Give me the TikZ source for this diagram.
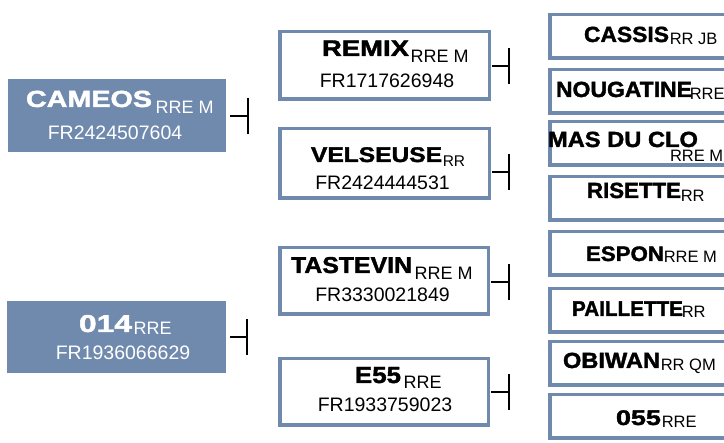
\documentclass[tikz,border=0pt]{standalone}
\usepackage{graphicx}
\usepackage{fontspec}
\setmainfont{Liberation Sans}
\newfontfamily\cownamefont[FakeBold=1.6]{Liberation Sans Bold}
\definecolor{boxblue}{RGB}{112,138,174}
% name: width, height, text
\newcommand\cowname[3]{\resizebox{#1pt}{#2pt}{\cownamefont\fontsize{20}{20}\selectfont #3}}
\newcommand\cowsuf[1]{{\fontsize{18}{18}\selectfont #1}}
\newcommand\rcowsuf[1]{{\fontsize{16.5}{16.5}\selectfont #1}}
\newcommand\frnum[1]{{\fontsize{19.5}{19.5}\selectfont #1}}
\tikzset{
  leftbox/.style={fill=boxblue, draw=none, inner sep=0pt, outer sep=0pt},
  midbox/.style={draw=boxblue, line width=3.5pt, fill=white, minimum width=209.5pt, inner sep=0pt},
  rbox/.style={draw=boxblue, line width=3.5pt, fill=white, minimum width=200pt, minimum height=43.5pt, inner sep=0pt},
  txt/.style={inner sep=0pt, outer sep=0pt, anchor=base},
  ltxt/.style={inner sep=0pt, outer sep=0pt, anchor=base west},
  conn/.style={line width=1.5pt, draw=black},
}
\begin{document}
\begin{tikzpicture}[x=1pt,y=-1pt]
\useasboundingbox (0,0) rectangle (724,443);
\clip (0,0) rectangle (724,443);

% left boxes
\node[leftbox, minimum width=218pt, minimum height=73pt] (cameos) at (117,115.5) {};
\node[leftbox, minimum width=219pt, minimum height=72pt] (o14) at (116.5,337) {};
\node[ltxt, white] (cameosname) at (26,107) {\cowname{126}{16.3}{CAMEOS}};
\node[ltxt, white] (cameossuf) at (155.7,114) {\cowsuf{RRE M}};
\node[txt, white] (cameosfr) at (115,140) {\frnum{FR2424507604}};
\node[ltxt, white] (o14name) at (79,332) {\cowname{53}{17}{014}};
\node[ltxt, white] (o14suf) at (133.7,335) {\cowsuf{RRE}};
\node[txt, white] (o14fr) at (123,360) {\frnum{FR1936066629}};

% middle boxes
\node[midbox, minimum height=67.5pt] (remix) at (384.5,65.5) {};
\node[midbox, minimum height=69.5pt] (velseuse) at (384.5,163.5) {};
\node[midbox, minimum height=66.5pt, minimum width=208.5pt] (tastevin) at (384,281) {};
\node[midbox, minimum height=66.5pt, minimum width=208.5pt] (e55) at (384,392) {};
\node[ltxt] (remixname) at (322,56) {\cowname{87}{15.5}{REMIX}};
\node[ltxt] (remixsuf) at (410.7,63) {\cowsuf{RRE M}};
\node[txt] (remixfr) at (387,88) {\frnum{FR1717626948}};
\node[ltxt] (velseusename) at (311,162) {\cowname{131}{14.8}{VELSEUSE}};
\node[ltxt] (velseusesuf) at (442.8,167) {\fontsize{15.5}{15.5}\selectfont RR};
\node[txt] (velseusefr) at (382.5,190) {\frnum{FR2424444531}};
\node[ltxt] (tastevinname) at (291,273) {\cowname{121}{16}{TASTEVIN}};
\node[ltxt] (tastevinsuf) at (414.7,280) {\cowsuf{RRE M}};
\node[txt] (tastevinfr) at (382.5,302) {\frnum{FR3330021849}};
\node[ltxt] (e55name) at (355,383) {\cowname{46}{16}{E55}};
\node[ltxt] (e55suf) at (403.7,389) {\cowsuf{RRE}};
\node[txt] (e55fr) at (385,412) {\frnum{FR1933759023}};

% right boxes
\node[rbox] (cassis) at (649.75,36.5) {};
\node[rbox] (nougatine) at (649.75,91.5) {};
\node[rbox] (masduclo) at (649.75,143.5) {};
\node[rbox] (risette) at (649.75,198.5) {};
\node[rbox] (espon) at (649.75,253.5) {};
\node[rbox] (paillette) at (649.75,310.5) {};
\node[rbox] (obiwan) at (649.75,363.5) {};
\node[rbox] (o55) at (649.75,416.5) {};
\node[ltxt] (cassisname) at (584,42) {\cowname{85}{15.3}{CASSIS}};
\node[ltxt] (cassissuf) at (669.8,45) {\rcowsuf{RR JB}};
\node[ltxt] (nougatinename) at (556,97) {\cowname{136}{15.3}{NOUGATINE}};
\node[ltxt] (nougatinesuf) at (689.8,100) {\rcowsuf{RRE}};
\node[ltxt] (masduclomname) at (548,147) {\cowname{150}{15.3}{MAS DU CLO}};
\node[ltxt] (masduclosuf) at (670,162) {\rcowsuf{RRE M}};
\node[ltxt] (risettename) at (587,198) {\cowname{94}{15.3}{RISETTE}};
\node[ltxt] (risettesuf) at (680.8,202) {\rcowsuf{RR}};
\node[ltxt] (esponname) at (586,261) {\cowname{78}{14.6}{ESPON}};
\node[ltxt] (esponsuf) at (663.8,263) {\rcowsuf{RRE M}};
\node[ltxt] (paillettename) at (572,316) {\cowname{111}{14.6}{PAILLETTE}};
\node[ltxt] (paillettesuf) at (681.8,318) {\rcowsuf{RR}};
\node[ltxt] (obiwanname) at (563,368) {\cowname{97}{15.3}{OBIWAN}};
\node[ltxt] (obiwansuf) at (660.8,371) {\rcowsuf{RR QM}};
\node[ltxt] (o55name) at (616,425) {\cowname{45}{14.8}{055}};
\node[ltxt] (o55suf) at (661.8,428) {\rcowsuf{RRE}};

% connectors
\coordinate (cameosT) at (248,116);
\coordinate (o14T) at (247,337);
\coordinate (remixT) at (509,66);
\coordinate (velseuseT) at (509,172);
\coordinate (tastevinT) at (509,282);
\coordinate (e55T) at (509,392);
\draw[conn, shorten <=4pt] (cameos.east |- cameosT) -- (cameosT);
\draw[conn] ([yshift=18pt]cameosT) -- ([yshift=-18pt]cameosT);
\draw[conn, shorten <=4pt] (o14.east |- o14T) -- (o14T);
\draw[conn] ([yshift=18pt]o14T) -- ([yshift=-18pt]o14T);
\draw[conn, shorten <=1pt] (remix.east |- remixT) -- (remixT);
\draw[conn] ([yshift=18pt]remixT) -- ([yshift=-18pt]remixT);
\draw[conn, shorten <=1pt] (velseuse.east |- velseuseT) -- (velseuseT);
\draw[conn] ([yshift=18pt]velseuseT) -- ([yshift=-18pt]velseuseT);
\draw[conn, shorten <=1pt] (tastevin.east |- tastevinT) -- (tastevinT);
\draw[conn] ([yshift=18pt]tastevinT) -- ([yshift=-18pt]tastevinT);
\draw[conn, shorten <=1pt] (e55.east |- e55T) -- (e55T);
\draw[conn] ([yshift=18pt]e55T) -- ([yshift=-18pt]e55T);
\end{tikzpicture}
\end{document}
